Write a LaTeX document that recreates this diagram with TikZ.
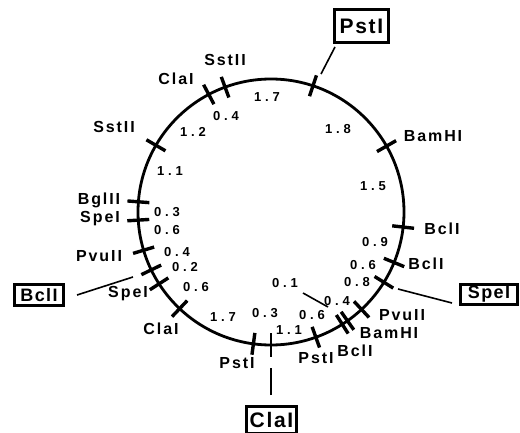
\documentclass[tikz,border=0pt]{standalone}
\usepackage{fontspec}
\setmainfont{Liberation Sans}
\newfontfamily\enzf[LetterSpace=12]{Liberation Sans}
\newfontfamily\numf[LetterSpace=30]{Liberation Sans}
\newfontfamily\boxf[LetterSpace=8]{Liberation Sans}
\usetikzlibrary{calc}
\begin{document}
\begin{tikzpicture}[x=1pt,y=1pt,
  enz/.style={font=\enzf\bfseries\fontsize{16}{16}\selectfont, inner sep=0pt},
  num/.style={font=\numf\bfseries\fontsize{13}{13}\selectfont, inner sep=0pt},
  boxed/.style={draw, line width=2.6pt, inner sep=0pt},
  ring/.style={line width=2.8pt},
  tickmark/.style={line width=3.4pt},
  lead/.style={line width=1.6pt}]
\useasboundingbox (0,0) rectangle (520,-433);
\coordinate (c) at (271,-212);
\draw[ring] (c) circle[radius=133];
% restriction site ticks
\foreach \a in {110.2,117.9,149.9,175.6,183.5,196.7,205.8,212.7,226.6,262.4,289.7,302.4,305.1,312.9,328.1,337.7,353.5,29.7,71.6}
  \draw[tickmark] ($(c)+(\a:122)$) -- ($(c)+(\a:144)$);
\draw[lead] ($(c)+(270:121)$) -- ($(c)+(270:145)$);
% boxed sites
\node[boxed, minimum width=54.5, minimum height=32.5, font=\boxf\bfseries\fontsize{21}{21}\selectfont] (bpst) at (361.5,-26) {PstI};
\node[boxed, minimum width=57.5, minimum height=20.5, font=\boxf\bfseries\fontsize{18}{18}\selectfont] (bspe) at (489,-294.5) {SpeI};
\node[boxed, minimum width=49.5, minimum height=21.5, font=\boxf\bfseries\fontsize{18}{18}\selectfont] (bbcl) at (39,-295) {BclI};
\node[boxed, minimum width=50.5, minimum height=27.5, font=\boxf\bfseries\fontsize{21}{21}\selectfont] (bcla) at (271.5,-420) {ClaI};
% leader lines
\coordinate (pstA) at (335,-47);  \coordinate (pstB) at (321,-74);
\coordinate (speA) at (452,-303); \coordinate (speB) at (398,-289);
\coordinate (bclA) at (77,-295);  \coordinate (bclB) at (133,-277);
\coordinate (claA) at (271,-395); \coordinate (claB) at (271,-368);
\coordinate (oneA) at (303,-293); \coordinate (oneB) at (328,-307);
\draw[lead] (pstA) -- (pstB);
\draw[lead] (speA) -- (speB);
\draw[lead] (bclA) -- (bclB);
\draw[lead] (claA) -- (claB);
\draw[lead] (oneA) -- (oneB);
% enzyme labels
\node[enz] (e1) at (225,-60) {SstII};
\node[enz] (e2) at (176,-79) {ClaI};
\node[enz] (e3) at (114,-127) {SstII};
\node[enz] (e4) at (99,-200) {BglII};
\node[enz] (e5) at (100,-219) {SpeI};
\node[enz] (e6) at (99,-256) {PvuII};
\node[enz] (e7) at (128,-294) {SpeI};
\node[enz] (e8) at (161,-329) {ClaI};
\node[enz] (e9) at (237,-363) {PstI};
\node[enz] (e10) at (316,-358) {PstI};
\node[enz] (e11) at (355,-351) {BclI};
\node[enz] (e12) at (389,-333) {BamHI};
\node[enz] (e13) at (402,-315) {PvuII};
\node[enz] (e14) at (426,-264) {BclI};
\node[enz] (e15) at (442,-229) {BclI};
\node[enz] (e16) at (433,-136) {BamHI};
% distances (kb)
\node[num] (n1) at (267,-97) {1.7};
\node[num] (n2) at (338,-129) {1.8};
\node[num] (n3) at (373,-186) {1.5};
\node[num] (n4) at (375,-242) {0.9};
\node[num] (n5) at (363,-265) {0.6};
\node[num] (n6) at (357,-282) {0.8};
\node[num] (n7) at (337,-301) {0.4};
\node[num] (n8) at (285,-283) {0.1};
\node[num] (n9) at (312,-315) {0.6};
\node[num] (n10) at (289,-330) {1.1};
\node[num] (n11) at (265,-313) {0.3};
\node[num] (n12) at (223,-317) {1.7};
\node[num] (n13) at (196,-287) {0.6};
\node[num] (n14) at (185,-267) {0.2};
\node[num] (n15) at (177,-252) {0.4};
\node[num] (n16) at (167,-230) {0.6};
\node[num] (n17) at (167,-212) {0.3};
\node[num] (n18) at (170,-171) {1.1};
\node[num] (n19) at (193,-132) {1.2};
\node[num] (n20) at (226,-116) {0.4};
\end{tikzpicture}
\end{document}
